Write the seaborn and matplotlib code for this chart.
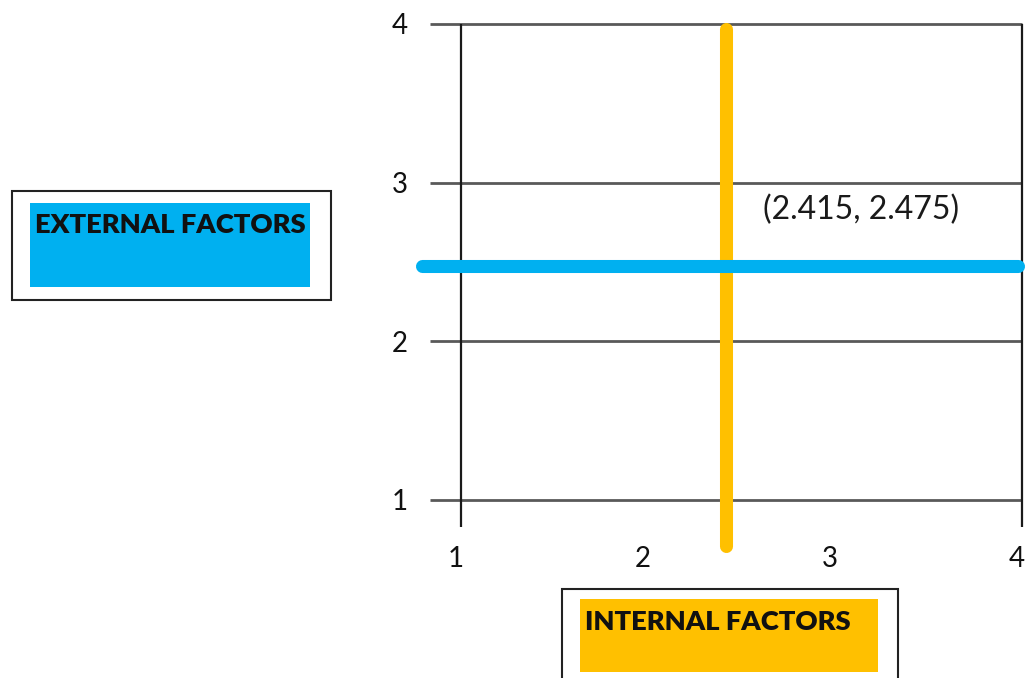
import matplotlib
matplotlib.use("Agg")
import matplotlib.pyplot as plt
from matplotlib.patches import Rectangle
from matplotlib.transforms import ScaledTranslation
import pandas as pd
import seaborn as sns

# Scale ticks and the two factor scores
axis_ticks = [1, 2, 3, 4]
tick_labels = ["1", "2", "3", "4"]
internal_score = 2.415   # x position of the vertical (internal) line
external_score = 2.475   # y position of the horizontal (external) line
point_label = f"({internal_score}, {external_score})"
internal_title = "INTERNAL FACTORS"
external_title = "EXTERNAL FACTORS"

BLUE = "#00B0F0"
ORANGE = "#FFC000"
GRID = "#595959"

W, H = 1032, 678
sns.set_theme(style="white")
plt.rcParams["font.family"] = ["Lato", "DejaVu Sans"]


def fx(px):
    return px / W


def fy(py):
    return 1 - py / H


fig = plt.figure(figsize=(W / 100, H / 100), dpi=100)
fig.patch.set_facecolor("white")

ax = fig.add_axes([fx(461), fy(500), fx(1022) - fx(461), fy(24) - fy(500)])
ax.set_xlim(1, 4)
ax.set_ylim(1, 4)
ax.set_facecolor("white")
for s in ax.spines.values():
    s.set_visible(False)
ax.grid(False)

# horizontal gridlines, extended a little to the left of the plot area
for y in axis_ticks:
    ax.plot([0.834, 4], [y, y], color=GRID, lw=2.0, clip_on=False,
            solid_capstyle="butt", zorder=1)
# vertical boundary lines at both ends of the x scale
for x in (axis_ticks[0], axis_ticks[-1]):
    ax.plot([x, x], [0.83, 4], color="#1a1a1a", lw=1.6, clip_on=False,
            solid_capstyle="butt", zorder=1)

# internal factors line (vertical)
internal_df = pd.DataFrame({"x": [internal_score, internal_score], "y": [3.97, 0.707]})
sns.lineplot(data=internal_df, x="x", y="y", color=ORANGE, linewidth=9.4,
             estimator=None, sort=False, ax=ax, clip_on=False,
             solid_capstyle="round", zorder=3)

# external factors line (horizontal)
external_df = pd.DataFrame({"x": [0.794, 3.981], "y": [external_score, external_score]})
sns.lineplot(data=external_df, x="x", y="y", color=BLUE, linewidth=9.4,
             estimator=None, sort=False, ax=ax, clip_on=False,
             solid_capstyle="round", zorder=4)

ax.annotate(point_label, xy=(internal_score, external_score),
            xytext=(37, 56), textcoords="offset pixels",
            ha="left", va="center", fontsize=23, color="#1a1a1a")

ax.set_xticks(axis_ticks, tick_labels)
ax.set_yticks(axis_ticks, tick_labels)
ax.set_xlabel("")
ax.set_ylabel("")
ax.tick_params(axis="x", length=0, pad=33, labelsize=20, labelcolor="#111111")
ax.tick_params(axis="y", length=0, pad=38, labelsize=20, labelcolor="#111111")
shift = ScaledTranslation(-5 / 100, 0, fig.dpi_scale_trans)
for lab in ax.get_xticklabels():
    lab.set_transform(lab.get_transform() + shift)


def labelled_box(outer, inner, fill, text, text_x, text_y):
    x0, y0, x1, y1 = outer
    fig.patches.append(Rectangle((fx(x0), fy(y1)), fx(x1) - fx(x0), fy(y0) - fy(y1),
                                 transform=fig.transFigure, facecolor="white",
                                 edgecolor="#222222", lw=1.5, zorder=0))
    x0, y0, x1, y1 = inner
    fig.patches.append(Rectangle((fx(x0), fy(y1)), fx(x1) - fx(x0), fy(y0) - fy(y1),
                                 transform=fig.transFigure, facecolor=fill,
                                 edgecolor="none", zorder=1))
    fig.text(fx(text_x), fy(text_y), text, ha="left", va="center",
             fontsize=19.7, fontweight="heavy", color="#111111")


labelled_box((12, 191, 331, 300), (30, 203, 310, 287), BLUE, external_title, 35, 225)
labelled_box((562, 589, 898, 700), (580, 599, 878, 672), ORANGE, internal_title, 585, 622)

fig.savefig("out.png", dpi=100)
